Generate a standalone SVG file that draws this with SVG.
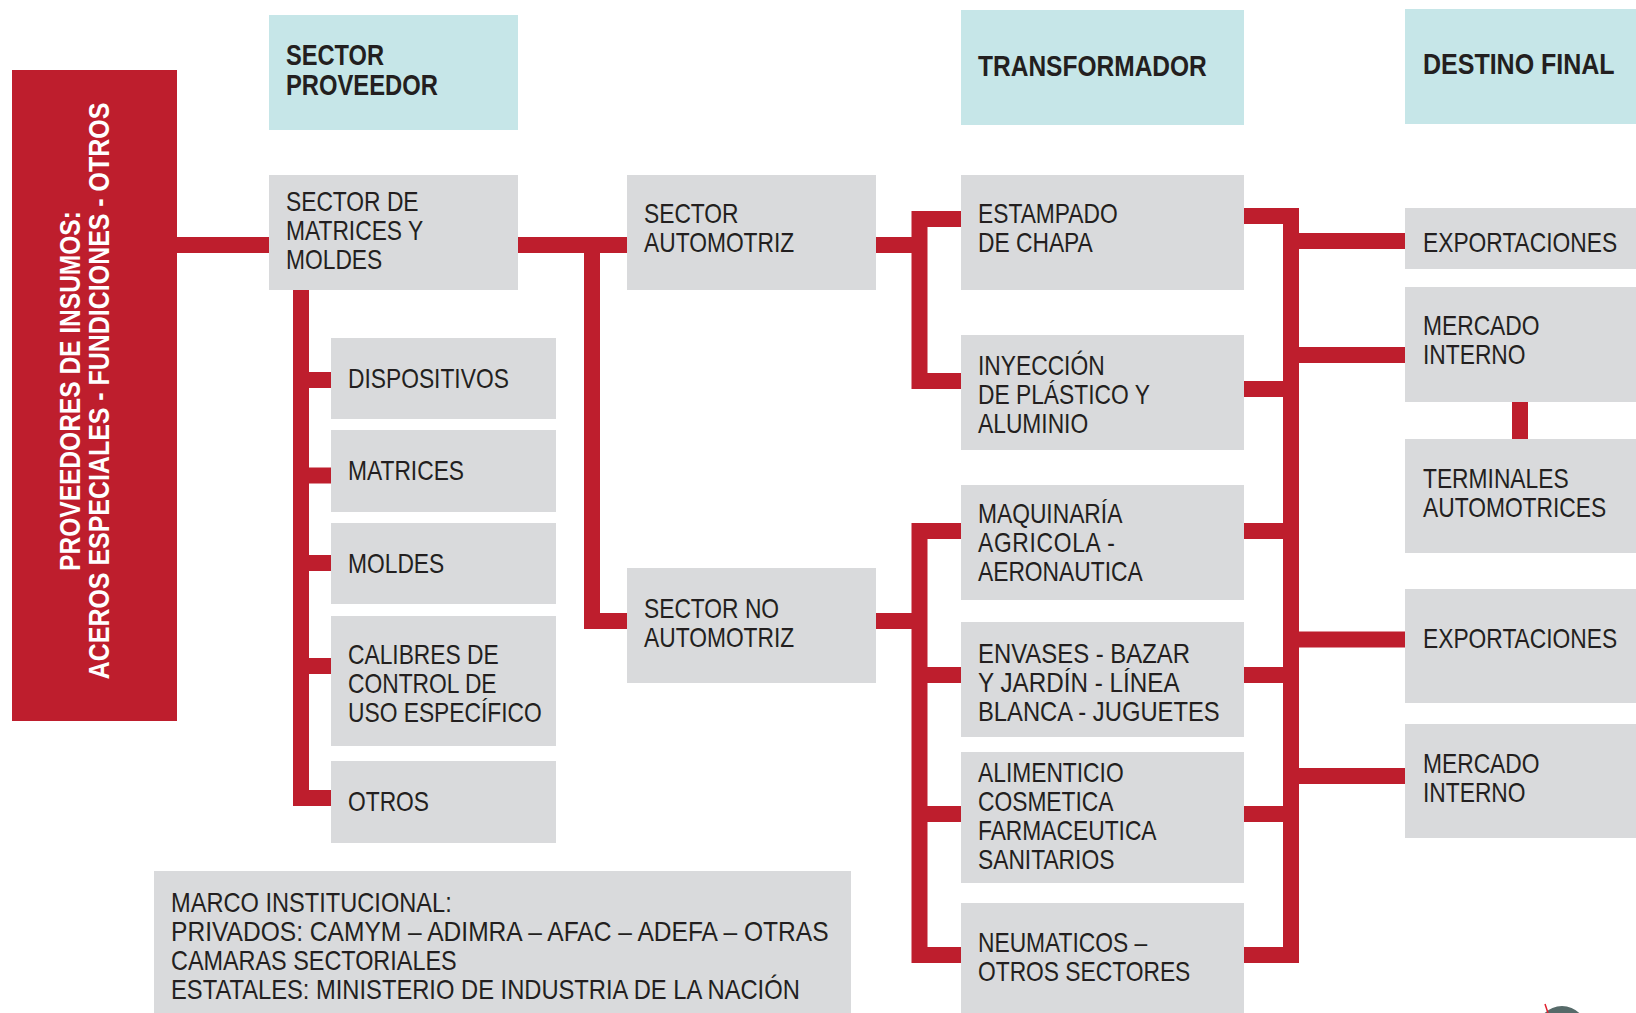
<svg xmlns="http://www.w3.org/2000/svg" width="1636" height="1013" viewBox="0 0 1636 1013">
<style>
.box{fill:#d9dadc}
.hdr{fill:#c6e6e8}
.t{font-family:"Liberation Sans",Arial,sans-serif;font-size:28.5px;fill:#231f20}
.h{font-family:"Liberation Sans",Arial,sans-serif;font-size:29px;font-weight:bold;fill:#231f20}
.w{font-family:"Liberation Sans",Arial,sans-serif;font-size:30px;font-weight:bold;fill:#ffffff}
.c{fill:none;stroke:#be1e2d;stroke-width:16;stroke-linejoin:miter;stroke-linecap:butt}
</style>
<rect width="1636" height="1013" fill="#ffffff"/>

<g id="connectors">
<path class="c" d="M177,245 H269"/>
<path class="c" d="M518,245 H627 M592,245 V621 H627"/>
<path class="c" d="M301,289 V798 H331 M301,380 H331 M301,475.5 H331 M301,563 H331 M301,666 H331"/>
<path class="c" d="M876,245 H919.5 M961,219 H919.5 V381 H961"/>
<path class="c" d="M876,621 H919.5 M961,531 H919.5 V955 H961 M919.5,675 H961 M919.5,814 H961"/>
<path class="c" d="M1244,216 H1291 V955 H1244 M1244,389 H1291 M1244,531 H1291 M1244,675 H1291 M1244,814 H1291"/>
<path class="c" d="M1291,241 H1405 M1291,355 H1405 M1291,639.5 H1405 M1291,776 H1405"/>
<path class="c" d="M1520,402 V439"/>
</g>

<g id="proveedores-insumos">
<rect x="12" y="70" width="165" height="651" fill="#be1e2d"/>
<text class="w" text-anchor="middle" transform="translate(80,391) rotate(-90) scale(0.818,1)">PROVEEDORES DE INSUMOS:</text>
<text class="w" text-anchor="middle" transform="translate(109,391) rotate(-90) scale(0.832,1)">ACEROS ESPECIALES - FUNDICIONES - OTROS</text>
</g>

<g id="hdr-sector-proveedor">
<rect class="hdr" x="269" y="15" width="249" height="115"/>
<text class="h" transform="matrix(0.815,0,0,1,286,0)" y="65">SECTOR</text>
<text class="h" transform="matrix(0.82,0,0,1,286,0)" y="95">PROVEEDOR</text>
</g>
<g id="hdr-transformador">
<rect class="hdr" x="961" y="10" width="283" height="115"/>
<text class="h" transform="matrix(0.846,0,0,1,978,0)" y="76">TRANSFORMADOR</text>
</g>
<g id="hdr-destino-final">
<rect class="hdr" x="1405" y="9" width="231" height="115"/>
<text class="h" transform="matrix(0.862,0,0,1,1423,0)" y="74">DESTINO FINAL</text>
</g>

<g id="sector-matrices-moldes">
<rect class="box" x="269" y="175" width="249" height="115"/>
<g transform="matrix(0.8,0,0,1,286,0)">
<text class="t" y="211">SECTOR DE</text>
<text class="t" y="240">MATRICES Y</text>
<text class="t" y="269">MOLDES</text>
</g>
</g>
<g id="dispositivos">
<rect class="box" x="331" y="338" width="225" height="81"/>
<text class="t" transform="matrix(0.8,0,0,1,348,0)" y="388">DISPOSITIVOS</text>
</g>
<g id="matrices">
<rect class="box" x="331" y="430" width="225" height="82"/>
<text class="t" transform="matrix(0.8,0,0,1,348,0)" y="480">MATRICES</text>
</g>
<g id="moldes">
<rect class="box" x="331" y="523" width="225" height="81"/>
<text class="t" transform="matrix(0.8,0,0,1,348,0)" y="573">MOLDES</text>
</g>
<g id="calibres">
<rect class="box" x="331" y="616" width="225" height="130"/>
<g transform="matrix(0.8,0,0,1,348,0)">
<text class="t" y="664">CALIBRES DE</text>
<text class="t" y="693">CONTROL DE</text>
<text class="t" y="722">USO ESPECÍFICO</text>
</g>
</g>
<g id="otros">
<rect class="box" x="331" y="761" width="225" height="82"/>
<text class="t" transform="matrix(0.8,0,0,1,348,0)" y="811">OTROS</text>
</g>
<g id="marco-institucional">
<rect class="box" x="154" y="871" width="697" height="142"/>
<g transform="matrix(0.8,0,0,1,171,0)">
<text class="t" y="912" textLength="351" lengthAdjust="spacingAndGlyphs">MARCO INSTITUCIONAL:</text>
<text class="t" y="941" textLength="822" lengthAdjust="spacingAndGlyphs">PRIVADOS: CAMYM – ADIMRA – AFAC – ADEFA – OTRAS</text>
<text class="t" y="970" textLength="357" lengthAdjust="spacingAndGlyphs">CAMARAS SECTORIALES</text>
<text class="t" y="999" textLength="786" lengthAdjust="spacingAndGlyphs">ESTATALES: MINISTERIO DE INDUSTRIA DE LA NACIÓN</text>
</g>
</g>

<g id="sector-automotriz">
<rect class="box" x="627" y="175" width="249" height="115"/>
<g transform="matrix(0.8,0,0,1,644,0)">
<text class="t" y="223">SECTOR</text>
<text class="t" y="252">AUTOMOTRIZ</text>
</g>
</g>
<g id="sector-no-automotriz">
<rect class="box" x="627" y="568" width="249" height="115"/>
<g transform="matrix(0.8,0,0,1,644,0)">
<text class="t" y="618">SECTOR NO</text>
<text class="t" y="647">AUTOMOTRIZ</text>
</g>
</g>

<g id="estampado">
<rect class="box" x="961" y="175" width="283" height="115"/>
<g transform="matrix(0.8,0,0,1,978,0)">
<text class="t" y="223">ESTAMPADO</text>
<text class="t" y="252">DE CHAPA</text>
</g>
</g>
<g id="inyeccion">
<rect class="box" x="961" y="335" width="283" height="115"/>
<g transform="matrix(0.8,0,0,1,978,0)">
<text class="t" y="375">INYECCIÓN</text>
<text class="t" y="404">DE PLÁSTICO Y</text>
<text class="t" y="433">ALUMINIO</text>
</g>
</g>
<g id="maquinaria">
<rect class="box" x="961" y="485" width="283" height="115"/>
<g transform="matrix(0.8,0,0,1,978,0)">
<text class="t" y="523">MAQUINARÍA</text>
<text class="t" y="552" textLength="171" lengthAdjust="spacing">AGRICOLA -</text>
<text class="t" y="581">AERONAUTICA</text>
</g>
</g>
<g id="envases">
<rect class="box" x="961" y="622" width="283" height="115"/>
<g transform="matrix(0.8,0,0,1,978,0)">
<text class="t" y="663" textLength="265" lengthAdjust="spacingAndGlyphs">ENVASES - BAZAR</text>
<text class="t" y="692" textLength="252" lengthAdjust="spacingAndGlyphs">Y JARDÍN - LÍNEA</text>
<text class="t" y="721" textLength="302" lengthAdjust="spacingAndGlyphs">BLANCA - JUGUETES</text>
</g>
</g>
<g id="alimenticio">
<rect class="box" x="961" y="752" width="283" height="131"/>
<g transform="matrix(0.8,0,0,1,978,0)">
<text class="t" y="782">ALIMENTICIO</text>
<text class="t" y="811">COSMETICA</text>
<text class="t" y="840">FARMACEUTICA</text>
<text class="t" y="869">SANITARIOS</text>
</g>
</g>
<g id="neumaticos">
<rect class="box" x="961" y="903" width="283" height="110"/>
<g transform="matrix(0.8,0,0,1,978,0)">
<text class="t" y="952">NEUMATICOS –</text>
<text class="t" y="981">OTROS SECTORES</text>
</g>
</g>

<g id="exportaciones-1">
<rect class="box" x="1405" y="208" width="231" height="61"/>
<text class="t" transform="matrix(0.8,0,0,1,1423,0)" y="252">EXPORTACIONES</text>
</g>
<g id="mercado-interno-1">
<rect class="box" x="1405" y="287" width="231" height="115"/>
<g transform="matrix(0.8,0,0,1,1423,0)">
<text class="t" y="335">MERCADO</text>
<text class="t" y="364">INTERNO</text>
</g>
</g>
<g id="terminales">
<rect class="box" x="1405" y="439" width="231" height="114"/>
<g transform="matrix(0.8,0,0,1,1423,0)">
<text class="t" y="488">TERMINALES</text>
<text class="t" y="517">AUTOMOTRICES</text>
</g>
</g>
<g id="exportaciones-2">
<rect class="box" x="1405" y="589" width="231" height="114"/>
<text class="t" transform="matrix(0.8,0,0,1,1423,0)" y="648">EXPORTACIONES</text>
</g>
<g id="mercado-interno-2">
<rect class="box" x="1405" y="724" width="231" height="114"/>
<g transform="matrix(0.8,0,0,1,1423,0)">
<text class="t" y="773">MERCADO</text>
<text class="t" y="802">INTERNO</text>
</g>
</g>

<g id="logo-fragment">
<circle cx="1562" cy="1031" r="25" fill="#566a69"/>
<line x1="1545" y1="1004" x2="1548" y2="1013" stroke="#e0212e" stroke-width="1.5"/>
</g>
</svg>
